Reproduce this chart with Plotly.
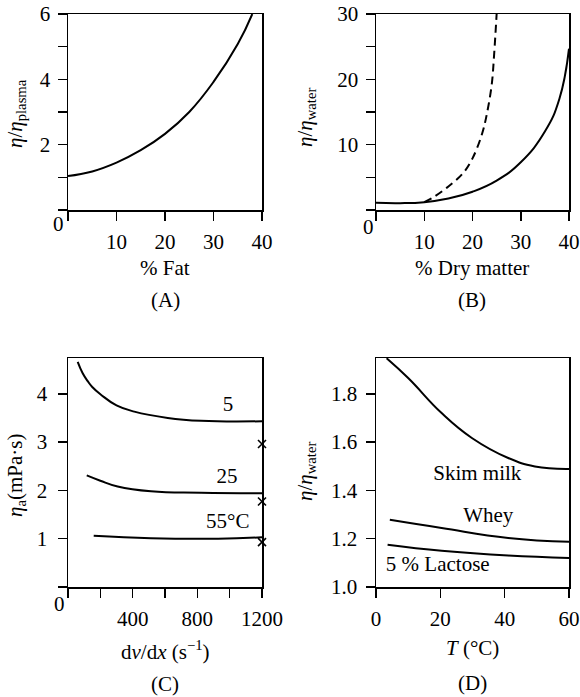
import plotly.graph_objects as go

# ---------------- data ----------------
# (A) viscosity vs fat content
A_fat = [0, 5, 10, 15, 20, 25, 30, 35, 38]
A_visc = [1.04, 1.18, 1.45, 1.83, 2.33, 3.0, 3.92, 5.08, 6.0]

# (B) viscosity vs dry matter (solid and dashed)
B_dm = [0, 5, 10, 15, 20, 25, 30, 35, 38, 40]
B_solid = [1.1, 1.05, 1.2, 1.75, 2.8, 4.5, 7.3, 12.0, 17.0, 24.7]
B_dash_dm = [10, 12, 15, 18, 20, 22, 23, 24, 24.5, 25]
B_dash = [1.2, 2.0, 3.6, 5.6, 7.9, 11.7, 14.8, 19.3, 24.0, 30.0]

# (C) apparent viscosity vs shear rate
C_rate_5 = [60, 90, 122, 150, 204, 300, 410, 617, 823, 1200]
C_visc_5 = [4.66, 4.43, 4.26, 4.14, 3.98, 3.76, 3.63, 3.50, 3.44, 3.43]
C_rate_25 = [116, 200, 307, 513, 823, 1200]
C_visc_25 = [2.31, 2.20, 2.08, 1.98, 1.95, 1.94]
C_rate_55 = [159, 513, 928, 1200]
C_visc_55 = [1.06, 1.01, 1.00, 1.03]
C_cross_rate = [1200, 1200, 1200]
C_cross_visc = [2.96, 1.77, 0.93]
C_labels = ["5", "25", "55°C"]
C_label_x = [989, 983, 988]
C_label_y = [3.76, 2.26, 1.32]

# (D) relative viscosity vs temperature
D_T_skim = [3.3, 10, 20.4, 29.8, 41.1, 49.4, 60]
D_skim = [1.947, 1.865, 1.72, 1.617, 1.534, 1.499, 1.489]
D_T_whey = [4.3, 20.4, 41.1, 60]
D_whey = [1.278, 1.244, 1.203, 1.187]
D_T_lac = [3.6, 20.4, 41.1, 60]
D_lac = [1.175, 1.150, 1.13, 1.12]
D_labels = ["Skim milk", "Whey", "5 % Lactose"]
D_label_x = [31.5, 34.9, 19.2]
D_label_y = [1.465, 1.292, 1.089]

# tick positions (labelled / unlabelled)
A_xticks = [10, 20, 30, 40]
A_xminor = [0]
A_yticks = [2, 4, 6]
A_yminor = [0, 1, 3, 5]
B_xticks = [10, 20, 30, 40]
B_xminor = [0]
B_yticks = [10, 20, 30]
B_yminor = [0, 5, 15, 25]
C_xticks = [400, 800, 1200]
C_xminor = [0, 200, 600, 1000]
C_yticks = [1, 2, 3, 4]
C_yminor = [0]
D_xticks = [0, 20, 40, 60]
D_yticks = [1.0, 1.2, 1.4, 1.6, 1.8]

# ---------------- figure ----------------
W, H = 580, 697
FONT = "Liberation Serif"
FS = 21
fig = go.Figure()

line = dict(color="black", width=2, shape="spline", smoothing=1.3)

fig.add_trace(go.Scatter(x=A_fat, y=A_visc, mode="lines", line=line, xaxis="x", yaxis="y"))
fig.add_trace(go.Scatter(x=B_dm, y=B_solid, mode="lines", line=line, xaxis="x2", yaxis="y2"))
fig.add_trace(go.Scatter(x=B_dash_dm, y=B_dash, mode="lines",
                         line=dict(color="black", width=2, shape="spline", smoothing=1.0, dash="8px,5px"),
                         xaxis="x2", yaxis="y2"))
for xs, ys in [(C_rate_5, C_visc_5), (C_rate_25, C_visc_25), (C_rate_55, C_visc_55)]:
    fig.add_trace(go.Scatter(x=xs, y=ys, mode="lines", line=line, xaxis="x3", yaxis="y3"))
fig.add_trace(go.Scatter(x=C_cross_rate, y=C_cross_visc, mode="markers", cliponaxis=False,
                         marker=dict(symbol="x-thin", size=8, line=dict(color="black", width=1.6)),
                         xaxis="x3", yaxis="y3"))
fig.add_trace(go.Scatter(x=C_label_x, y=C_label_y, mode="text", text=C_labels,
                         textfont=dict(family=FONT, size=FS, color="black"), cliponaxis=False,
                         xaxis="x3", yaxis="y3"))
for xs, ys in [(D_T_skim, D_skim), (D_T_whey, D_whey), (D_T_lac, D_lac)]:
    fig.add_trace(go.Scatter(x=xs, y=ys, mode="lines", line=line, xaxis="x4", yaxis="y4"))
fig.add_trace(go.Scatter(x=D_label_x, y=D_label_y, mode="text", text=D_labels,
                         textfont=dict(family=FONT, size=FS, color="black"), cliponaxis=False,
                         xaxis="x4", yaxis="y4"))


def px_x(p):
    return p / W


def px_y(p):
    return (H - p) / H


axis_common = dict(showline=True, mirror=True, linecolor="black", linewidth=1.5,
                   ticks="outside", ticklen=9, tickwidth=1.5, tickcolor="black",
                   showgrid=False, zeroline=False, fixedrange=True, automargin=False,
                   tickfont=dict(family=FONT, size=FS, color="black"))


def minor(vals):
    return dict(tickmode="array", tickvals=vals, ticks="outside", ticklen=9,
                tickwidth=1.5, tickcolor="black", showgrid=False)


# panel pixel boxes
AX = [68, 262]
BX = [376, 569]
TOPY = [14, 210]
BOTY = [358, 587]


def dom_x(b):
    return [px_x(b[0]), px_x(b[1])]


def dom_y(b):
    return [px_y(b[1]), px_y(b[0])]


fig.update_layout(
    width=W, height=H, margin=dict(l=0, r=0, t=0, b=0, pad=0, autoexpand=False),
    paper_bgcolor="white", plot_bgcolor="white", showlegend=False,
    font=dict(family=FONT, size=FS, color="black"),
    xaxis=dict(domain=dom_x(AX), anchor="y", range=[0, 40],
               tickvals=A_xticks, minor=minor(A_xminor),
               ticklabelstandoff=3, **axis_common),
    yaxis=dict(domain=dom_y(TOPY), anchor="x", range=[0, 6],
               tickvals=A_yticks, minor=minor(A_yminor),
               ticklabelstandoff=3, **axis_common),
    xaxis2=dict(domain=dom_x(BX), anchor="y2", range=[0, 40],
                tickvals=B_xticks, minor=minor(B_xminor),
                ticklabelstandoff=3, **axis_common),
    yaxis2=dict(domain=dom_y(TOPY), anchor="x2", range=[0, 30],
                tickvals=B_yticks, minor=minor(B_yminor),
                ticklabelstandoff=3, **axis_common),
    xaxis3=dict(domain=dom_x(AX), anchor="y3", range=[0, 1200],
                tickvals=C_xticks, minor=minor(C_xminor),
                ticklabelstandoff=3, **axis_common),
    yaxis3=dict(domain=dom_y(BOTY), anchor="x3", range=[0, 4.74],
                tickvals=C_yticks, minor=minor(C_yminor),
                ticklabelstandoff=6, **axis_common),
    xaxis4=dict(domain=dom_x(BX), anchor="y4", range=[0, 60],
                tickvals=D_xticks, ticklabelstandoff=3, **axis_common),
    yaxis4=dict(domain=dom_y(BOTY), anchor="x4", range=[1.0, 1.948],
                tickvals=D_yticks, tickformat=".1f",
                ticklabelstandoff=4, **axis_common),
)

ann = []


def add_text(text, x, y, angle=0):
    ann.append(dict(text=text, x=px_x(x), y=px_y(y), xref="paper", yref="paper",
                    xanchor="center", yanchor="middle", showarrow=False, textangle=angle,
                    borderpad=0, font=dict(family=FONT, size=FS, color="black")))


# x axis titles and panel letters
add_text("% Fat", 165, 268)
add_text("(A)", 165, 300)
add_text("% Dry matter", 472, 268)
add_text("(B)", 472, 300)
add_text("d<i>ν</i>/d<i>x</i> (s<sup>−1</sup>)", 165, 650)
add_text("(C)", 165, 684)
add_text("<i>T</i> (°C)", 472, 648)
add_text("(D)", 472, 683)
# y axis titles
add_text("<i>η</i>/<i>η</i><sub>plasma</sub>", 16, 114, -90)
add_text("<i>η</i>/<i>η</i><sub>water</sub>", 306, 118, -90)
add_text("<i>η</i><sub>a</sub>(mPa·s)", 16, 476, -90)
add_text("<i>η</i>/<i>η</i><sub>water</sub>", 306, 472, -90)
# corner zeros
add_text("0", 58, 224)
add_text("0", 368, 227)
add_text("0", 59, 604)

fig.update_layout(annotations=ann)
fig.write_html(
    "out.html",
    config={"displayModeBar": False, "staticPlot": True},
    post_script="document.body.style.margin='0';document.body.style.overflow='hidden';",
)
